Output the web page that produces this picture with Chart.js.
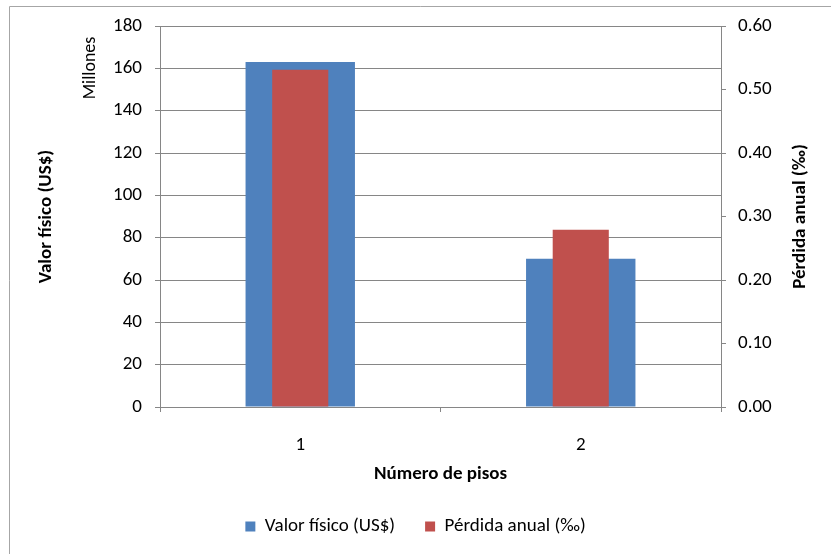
<!DOCTYPE html>
<html>
<head>
<meta charset="utf-8">
<script src="https://cdn.jsdelivr.net/npm/chart.js@4/dist/chart.umd.min.js"></script>
<style>
  html, body { margin: 0; padding: 0; background: #fff; }
  #wrap { position: relative; width: 831px; height: 554px; }
</style>
</head>
<body>
<div id="wrap"><canvas id="chart" width="831" height="554"></canvas></div>
<script>
  // data
  const pisos = ['1', '2'];
  const valorFisico = [163, 70];       // millones US$
  const perdidaAnual = [0.531, 0.279]; // per mil

  const FONT = 'Carlito, Calibri, Lato, sans-serif';
  const GRID = '#868686';
  const SIZE = 19;

  // frame + rotated texts Excel puts outside the normal axis titles
  const extras = {
    id: 'extras',
    beforeDraw(chart) {
      const { ctx } = chart;
      ctx.save();
      ctx.strokeStyle = '#a6a6a6';
      ctx.lineWidth = 1;
      ctx.beginPath();
      ctx.moveTo(9.5, 554);
      ctx.lineTo(9.5, 6.5);
      ctx.lineTo(831, 6.5);
      ctx.stroke();
      ctx.restore();
    },
    afterDraw(chart) {
      const { ctx, chartArea } = chart;
      ctx.save();
      ctx.fillStyle = '#000';
      ctx.textAlign = 'center';
      ctx.textBaseline = 'middle';
      ctx.translate(chartArea.left - 70, chartArea.top + 42);
      ctx.rotate(-Math.PI / 2);
      ctx.font = '18px ' + FONT;
      ctx.fillText('Millones', 0, 0);
      ctx.restore();

      ctx.save();
      ctx.fillStyle = '#000';
      ctx.textAlign = 'center';
      ctx.textBaseline = 'middle';
      ctx.translate(chartArea.right + 79, (chartArea.top + chartArea.bottom) / 2);
      ctx.rotate(-Math.PI / 2);
      ctx.font = 'bold ' + SIZE + 'px ' + FONT;
      ctx.fillText('Pérdida anual (‰)', 0, 0);
      ctx.restore();
    },
  };

  new Chart(document.getElementById('chart'), {
    type: 'bar',
    data: {
      labels: pisos,
      datasets: [
        {
          label: 'Valor físico (US$)',
          data: valorFisico,
          backgroundColor: '#4F81BD',
          yAxisID: 'y',
          order: 1,
          barPercentage: 0.39,
          categoryPercentage: 1,
          grouped: false,
        },
        {
          label: 'Pérdida anual (‰)',
          data: perdidaAnual,
          backgroundColor: '#C0504D',
          yAxisID: 'y1',
          order: 0,
          barPercentage: 0.2,
          categoryPercentage: 1,
          grouped: false,
        },
      ],
    },
    options: {
      responsive: false,
      animation: false,
      layout: { padding: { top: 26, left: 0, right: 0, bottom: 8 } },
      plugins: {
        tooltip: { enabled: false },
        legend: {
          position: 'bottom',
          labels: {
            sort: (a, b) => a.datasetIndex - b.datasetIndex,
            boxWidth: 10,
            boxHeight: 10,
            padding: 30,
            color: '#000',
            font: { family: FONT, size: SIZE },
          },
        },
      },
      scales: {
        x: {
          offset: true,
          afterFit(scale) { scale.height = 80; },
          grid: {
            offset: true,
            drawOnChartArea: false,
            drawTicks: true,
            tickLength: 5,
            color: GRID,
          },
          border: { color: GRID },
          ticks: { color: '#000', padding: 22, font: { family: FONT, size: SIZE } },
          title: {
            display: true,
            text: 'Número de pisos',
            color: '#000',
            font: { family: FONT, size: SIZE, weight: 'bold' },
            padding: { top: 0, bottom: 1 },
          },
        },
        y: {
          position: 'left',
          min: 0,
          max: 180,
          afterFit(scale) { scale.width = 160; },
          grid: { color: GRID, tickLength: 5 },
          border: { color: GRID },
          ticks: { stepSize: 20, color: '#000', padding: 13, font: { family: FONT, size: SIZE } },
          title: {
            display: true,
            text: 'Valor físico (US$)',
            color: '#000',
            font: { family: FONT, size: SIZE, weight: 'bold' },
            padding: { top: 35, bottom: 0 },
          },
        },
        y1: {
          position: 'right',
          min: 0,
          max: 0.6,
          afterFit(scale) { scale.width = 110; },
          grid: { drawOnChartArea: false, color: GRID, tickLength: 5 },
          border: { color: GRID },
          ticks: {
            stepSize: 0.1,
            color: '#000',
            padding: 12,
            font: { family: FONT, size: SIZE },
            callback: (v) => Number(v).toFixed(2),
          },
        },
      },
    },
    plugins: [extras],
  });
</script>
</body>
</html>
